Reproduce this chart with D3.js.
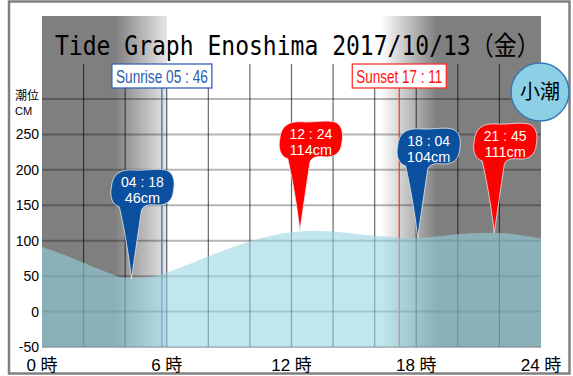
<!DOCTYPE html>
<html>
<head>
<meta charset="utf-8">
<script src="https://cdn.jsdelivr.net/npm/d3@7"></script>
<style>
  html, body { margin: 0; padding: 0; background: #fff; }
  svg { display: block; font-family: "Liberation Sans", "Noto Sans CJK JP", sans-serif; }
</style>
</head>
<body>
<svg id="chart" width="573" height="376"></svg>
<script>
// hourly tide level (cm)
const tideHours = [0, 1, 2, 3, 4, 5, 6, 7, 8, 9, 10, 11, 12, 13, 14, 15, 16, 17, 18, 19, 20, 21, 22, 23, 24];
const tideLevels = [91, 81, 69, 57, 48, 48, 55, 66, 78, 89, 99, 107, 112, 114, 113, 110, 107, 105, 104, 106, 109, 111, 111, 108, 103];

// high / low tide events
const eventTimes = ["04:18", "12:24", "18:04", "21:45"];
const eventLevels = [46, 114, 104, 111];
const eventTypes = ["low", "high", "low", "high"];

const sunrise = "05:46";
const sunset = "17:11";

const yTicks = [250, 200, 150, 100, 50, 0, -50];
const xLabelHours = [0, 6, 12, 18, 24];

const titleText = "Tide Graph Enoshima 2017/10/13（金）";
const tideName = "小潮";

const toHours = t => { const p = t.split(":"); return +p[0] + p[1] / 60; };

const svg = d3.select("#chart");

const x = d3.scaleLinear().domain([0, 24]).range([42, 541]);
const y = d3.scaleLinear().domain([-50, 300]).range([347, 99]);

// outer frame
svg.append("rect")
  .attr("x", 9).attr("y", 1.5).attr("width", 560.5).attr("height", 372)
  .attr("fill", "#fff").attr("stroke", "#808080").attr("stroke-width", 2.5);

// night shading (gradient in hours)
const defs = svg.append("defs");
const grad = defs.append("linearGradient")
  .attr("id", "night").attr("gradientUnits", "userSpaceOnUse")
  .attr("x1", x(0)).attr("x2", x(24)).attr("y1", 0).attr("y2", 0);
[[0, 1], [3.5, 1], [6, 0.2], [6, 0], [16.3, 0], [19, 1], [24, 1]].forEach(s => {
  grad.append("stop")
    .attr("offset", s[0] / 24)
    .attr("stop-color", "#7f7f7f")
    .attr("stop-opacity", s[1]);
});
svg.append("rect")
  .attr("x", x(0)).attr("y", 16)
  .attr("width", x(24) - x(0)).attr("height", y(-50) - 16)
  .attr("fill", "url(#night)");

// grid
svg.append("g").selectAll("line")
  .data(d3.range(-50, 301, 50))
  .join("line")
  .attr("x1", x(0)).attr("x2", x(24))
  .attr("y1", d => y(d)).attr("y2", d => y(d))
  .attr("stroke", "#000").attr("stroke-opacity", 0.29).attr("stroke-width", 2);

svg.append("g").selectAll("line")
  .data(d3.range(2, 24, 2))
  .join("line")
  .attr("x1", d => x(d)).attr("x2", d => x(d))
  .attr("y1", 64).attr("y2", y(-50))
  .attr("stroke", "#000").attr("stroke-opacity", 0.6).attr("stroke-width", 1.2);

// sunrise / sunset lines (under the water)
const sunItems = [
  { label: "Sunrise  " + sunrise.replace(":", " : "), t: toHours(sunrise), color: "#2f66b8", text: "#2a5cab", w: 100 },
  { label: "Sunset  " + sunset.replace(":", " : "), t: toHours(sunset), color: "#ff3030", text: "#ff1010", w: 94 }
];
svg.append("g").selectAll("line")
  .data(sunItems)
  .join("line")
  .attr("x1", d => x(d.t)).attr("x2", d => x(d.t))
  .attr("y1", 88).attr("y2", y(-50))
  .attr("stroke", d => d.color).attr("stroke-width", 1.2);

// water
const tide = tideHours.map((h, i) => ({ h: h, v: tideLevels[i] }));
const area = d3.area()
  .x(d => x(d.h))
  .y0(y(-50))
  .y1(d => y(d.v))
  .curve(d3.curveMonotoneX);
svg.append("path")
  .datum(tide)
  .attr("d", area)
  .attr("fill", "rgb(150,212,226)")
  .attr("fill-opacity", 0.58);

// sunrise / sunset boxes
const boxes = svg.append("g").selectAll("g")
  .data(sunItems)
  .join("g")
  .attr("transform", d => `translate(${x(d.t)},76)`);
boxes.append("rect")
  .attr("x", d => -d.w / 2).attr("y", -12)
  .attr("width", d => d.w).attr("height", 24)
  .attr("fill", "#fff").attr("stroke", d => d.color).attr("stroke-width", 1.3);
boxes.append("text")
  .attr("x", d => -d.w / 2 + 4).attr("y", 7)
  .attr("textLength", d => d.w - 8).attr("lengthAdjust", "spacingAndGlyphs")
  .attr("font-size", 19)
  .attr("fill", d => d.text)
  .text(d => d.label);

// tide event balloons
const balloonPath = "M0,0 C-2,-20 -7,-50 -12,-72 C-19,-74 -22,-82 -20,-92 C-19,-104 -12,-110 2,-109 " +
  "C14,-108 24,-111 34,-109 C42,-107 44,-98 42,-88 C41,-78 35,-73 24,-74 C16,-75 11,-73 10,-68 C7,-48 3,-20 0,0 Z";
const events = eventTimes.map((t, i) => ({ t: t, h: toHours(t), v: eventLevels[i], type: eventTypes[i] }));
const balloons = svg.append("g").selectAll("g")
  .data(events)
  .join("g")
  .attr("transform", d => `translate(${x(d.h)},${y(d.v)})`);
balloons.append("path")
  .attr("d", balloonPath)
  .attr("fill", d => d.type === "low" ? "#0b4f9f" : "#ff0000")
  .attr("stroke", "#e8e8e8").attr("stroke-width", 0.8);
balloons.append("text")
  .attr("x", 11).attr("y", -92)
  .attr("text-anchor", "middle").attr("font-size", 14).attr("fill", "#fff")
  .text(d => d.t.replace(":", " : "));
balloons.append("text")
  .attr("x", 11).attr("y", -75.5)
  .attr("text-anchor", "middle").attr("font-size", 14.5).attr("fill", "#fff")
  .text(d => d.v + "cm");

// title, squeezed horizontally to fit the plot width
const title = svg.append("text")
  .attr("font-family", "'DejaVu Sans Mono', 'Noto Sans CJK JP', monospace")
  .attr("font-size", 26).attr("fill", "#000")
  .text(titleText);
const titleScale = 485 / title.node().getComputedTextLength();
title.attr("transform", `translate(55,55) scale(${titleScale},1)`);

// tide name circle
svg.append("circle")
  .attr("cx", 540).attr("cy", 92).attr("r", 29)
  .attr("fill", "#8dd0e5").attr("stroke", "#3a78b5").attr("stroke-width", 1.5);
svg.append("text")
  .attr("x", 540).attr("y", 99)
  .attr("text-anchor", "middle").attr("font-size", 20).attr("fill", "#000")
  .attr("font-family", "'Noto Sans CJK JP', sans-serif")
  .text(tideName);

// y axis labels
svg.append("g").selectAll("text")
  .data(yTicks)
  .join("text")
  .attr("x", 39).attr("y", d => y(d) + 5)
  .attr("text-anchor", "end").attr("font-size", 14).attr("fill", "#000")
  .text(d => d);
svg.append("text")
  .attr("x", 15).attr("y", 100).attr("font-size", 12).attr("fill", "#000")
  .attr("font-family", "'Noto Sans CJK JP', sans-serif")
  .text("潮位");
svg.append("text")
  .attr("x", 15).attr("y", 115).attr("font-size", 11).attr("fill", "#000").text("CM");

// x axis labels
svg.append("g").selectAll("text")
  .data(xLabelHours)
  .join("text")
  .attr("x", d => x(d)).attr("y", 371)
  .attr("text-anchor", "middle").attr("font-size", 17).attr("fill", "#000")
  .text(d => d + " 時");
</script>
</body>
</html>
